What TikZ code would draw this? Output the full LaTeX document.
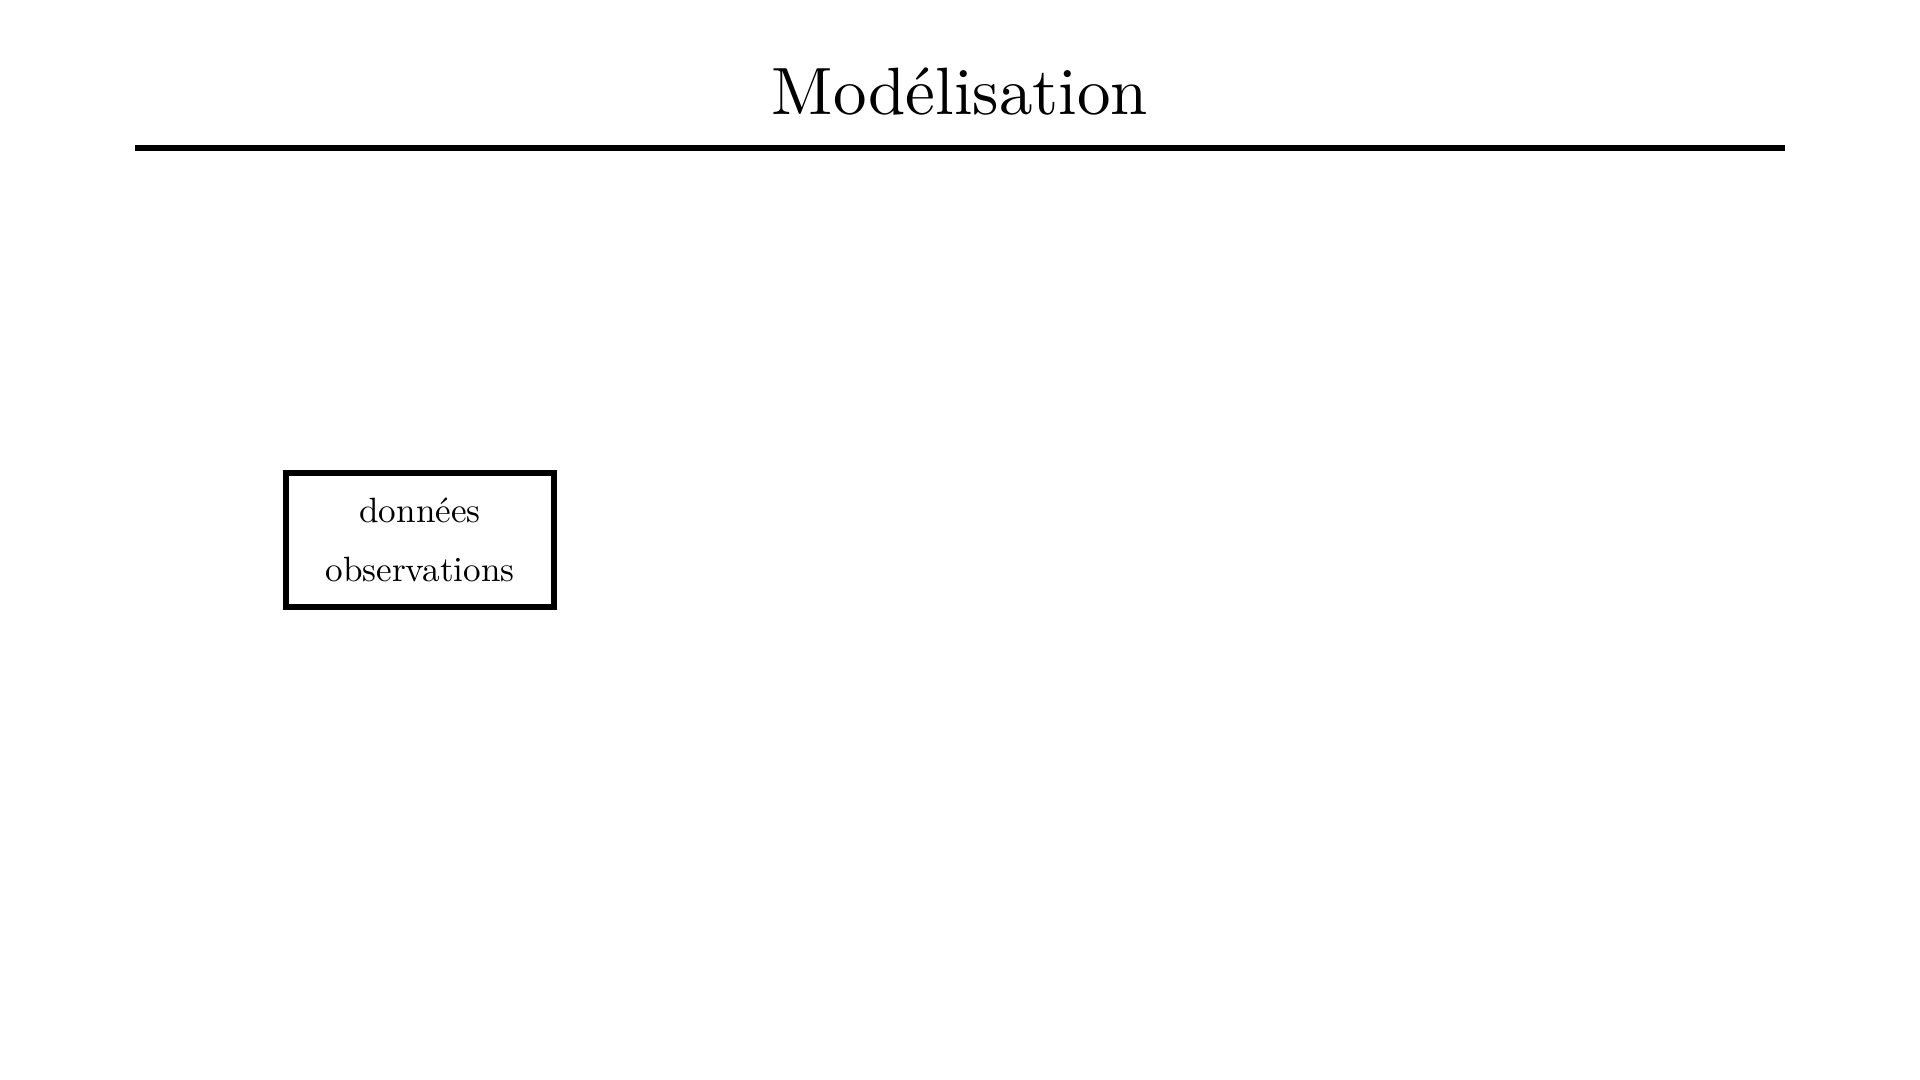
\documentclass[tikz,border=0pt]{standalone}
\usepackage{fontspec}
\newfontfamily\headfont{lmroman10-regular.otf}
\begin{document}
\begin{tikzpicture}[
  titletext/.style={font=\headfont\fontsize{19.05}{23}\selectfont, anchor=base},
  databox/.style={draw, line width=1.6pt, minimum width=2.68cm, minimum height=1.34cm,
                  align=center, inner sep=0pt, font=\fontsize{10}{16.8}\selectfont}
]
\useasboundingbox (0,0) rectangle (19.2,10.8);
% title and rule under it
\node[titletext] (title) at (9.6,9.65) {Modélisation};
\coordinate (ruleL) at (1.35,9.315);
\coordinate (ruleR) at (17.85,9.315);
\draw[line width=1.7pt] (ruleL) -- (ruleR);
% input box
\node[databox] (data) at (4.2,5.4) {données\\observations};
\end{tikzpicture}
\end{document}
